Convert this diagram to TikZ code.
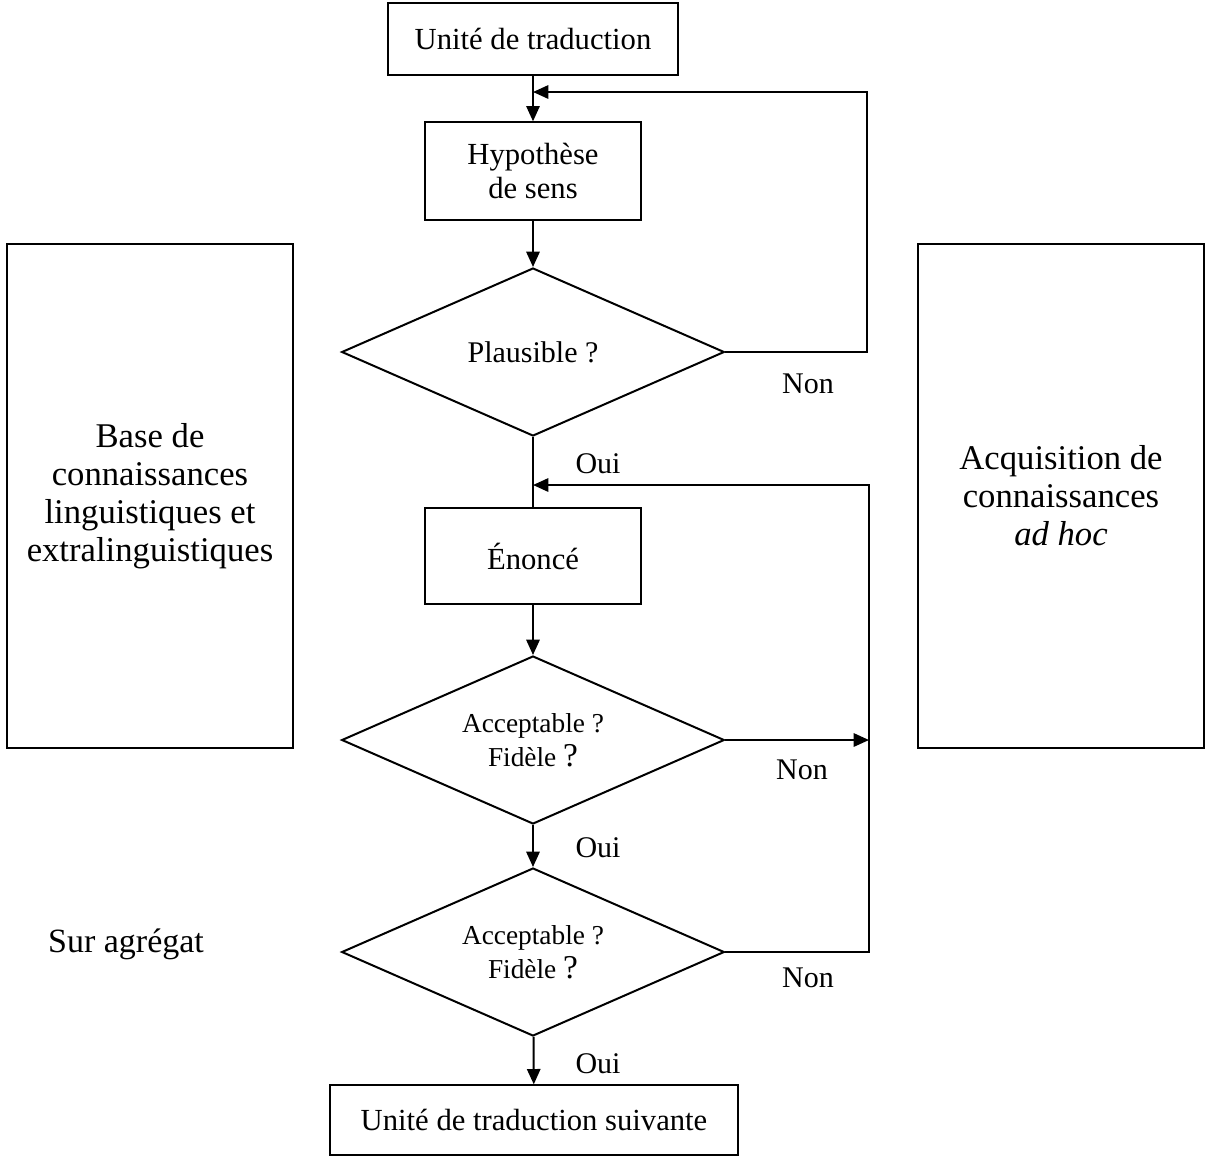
\documentclass[tikz,border=0pt]{standalone}
\usepackage{fontspec}
\setmainfont{Liberation Serif}
\usetikzlibrary{arrows.meta}
\usetikzlibrary{positioning,shapes.geometric,calc}
\tikzset{box/.style={rectangle,draw,line width=1.5pt,inner sep=0pt,font=\fontsize{23}{25.5}\selectfont},
		bigbox/.style={rectangle,draw,line width=1.5pt,inner sep=0pt,font=\fontsize{26}{28.5}\selectfont},
		test/.style={diamond,draw,line width=1.5pt,aspect=2.28,inner sep=0pt,
		             minimum width=287pt,minimum height=126pt,font=\fontsize{20.5}{25.5}\selectfont},
		Dedge/.style={-{Triangle[length=11.5pt,width=10pt]},line width=1.5pt},
		edge/.style={line width=1.5pt},
		tag/.style={font=\fontsize{22.5}{25}\selectfont},
		every node/.style={align=center}}
\newcommand{\bigq}{{\fontsize{25}{25.5}\selectfont ?}}

\begin{document}
\begin{tikzpicture}[x=0.75pt,y=-0.75pt]
	\useasboundingbox (0,0) rectangle (1206,1158);
	\node at (533,39) [box,minimum width=218pt,minimum height=54pt] (unit){Unité de traduction};
	\node at (533,171) [box,minimum width=162pt,minimum height=73pt] (hyp){Hypothèse\\de sens};
	\node at (533,352) [test,font=\fontsize{22.5}{25.5}\selectfont] (plaus){Plausible ?};
	\node at (533,556) [box,minimum width=162pt,minimum height=72pt] (enonce){Énoncé};
	\node at (533,740) [test] (acc1){Acceptable ?\\Fidèle \bigq};
	\node at (533,952) [test] (acc2){Acceptable ?\\Fidèle \bigq};
	\node at (534,1120) [box,minimum width=306pt,minimum height=52pt] (next){Unité de traduction suivante};
	\node at (150,496) [bigbox,minimum width=214pt,minimum height=378pt] (base){Base de\\connaissances\\linguistiques et\\extralinguistiques};
	\node at (1061,496) [bigbox,minimum width=215pt,minimum height=378pt] (acq){Acquisition de\\connaissances\\\textit{ad hoc}};
	\node at (126,944) [tag,font=\fontsize{25.5}{28}\selectfont] (agr){Sur agrégat};
	%loop points
	\coordinate (loopA) at (867,92);
	\coordinate (joinA) at (533,92);
	\coordinate (loopB) at (869,485);
	\coordinate (joinB) at (533,485);
	\coordinate (hitB) at (869,740);

	\draw[Dedge] (unit) -- (hyp);
	\draw[Dedge] (hyp) -- (plaus);
	\draw[Dedge] (plaus.east) -| (loopA) -- (joinA);
	\draw[edge] (plaus.south) -- (enonce.north);
	\draw[Dedge] (enonce) -- (acc1);
	\draw[Dedge] (acc1.east) -- (hitB);
	\draw[Dedge] (acc1) -- (acc2);
	\draw[Dedge] (acc2.east) -| (loopB) -- (joinB);
	\draw[Dedge] (acc2) -- (next);

	\node at (808,384) [tag] (non1){Non};
	\node at (598,464) [tag] (oui1){Oui};
	\node at (802,770) [tag] (non2){Non};
	\node at (598,848) [tag] (oui2){Oui};
	\node at (808,978) [tag] (non3){Non};
	\node at (598,1064) [tag] (oui3){Oui};
\end{tikzpicture}
\end{document}
